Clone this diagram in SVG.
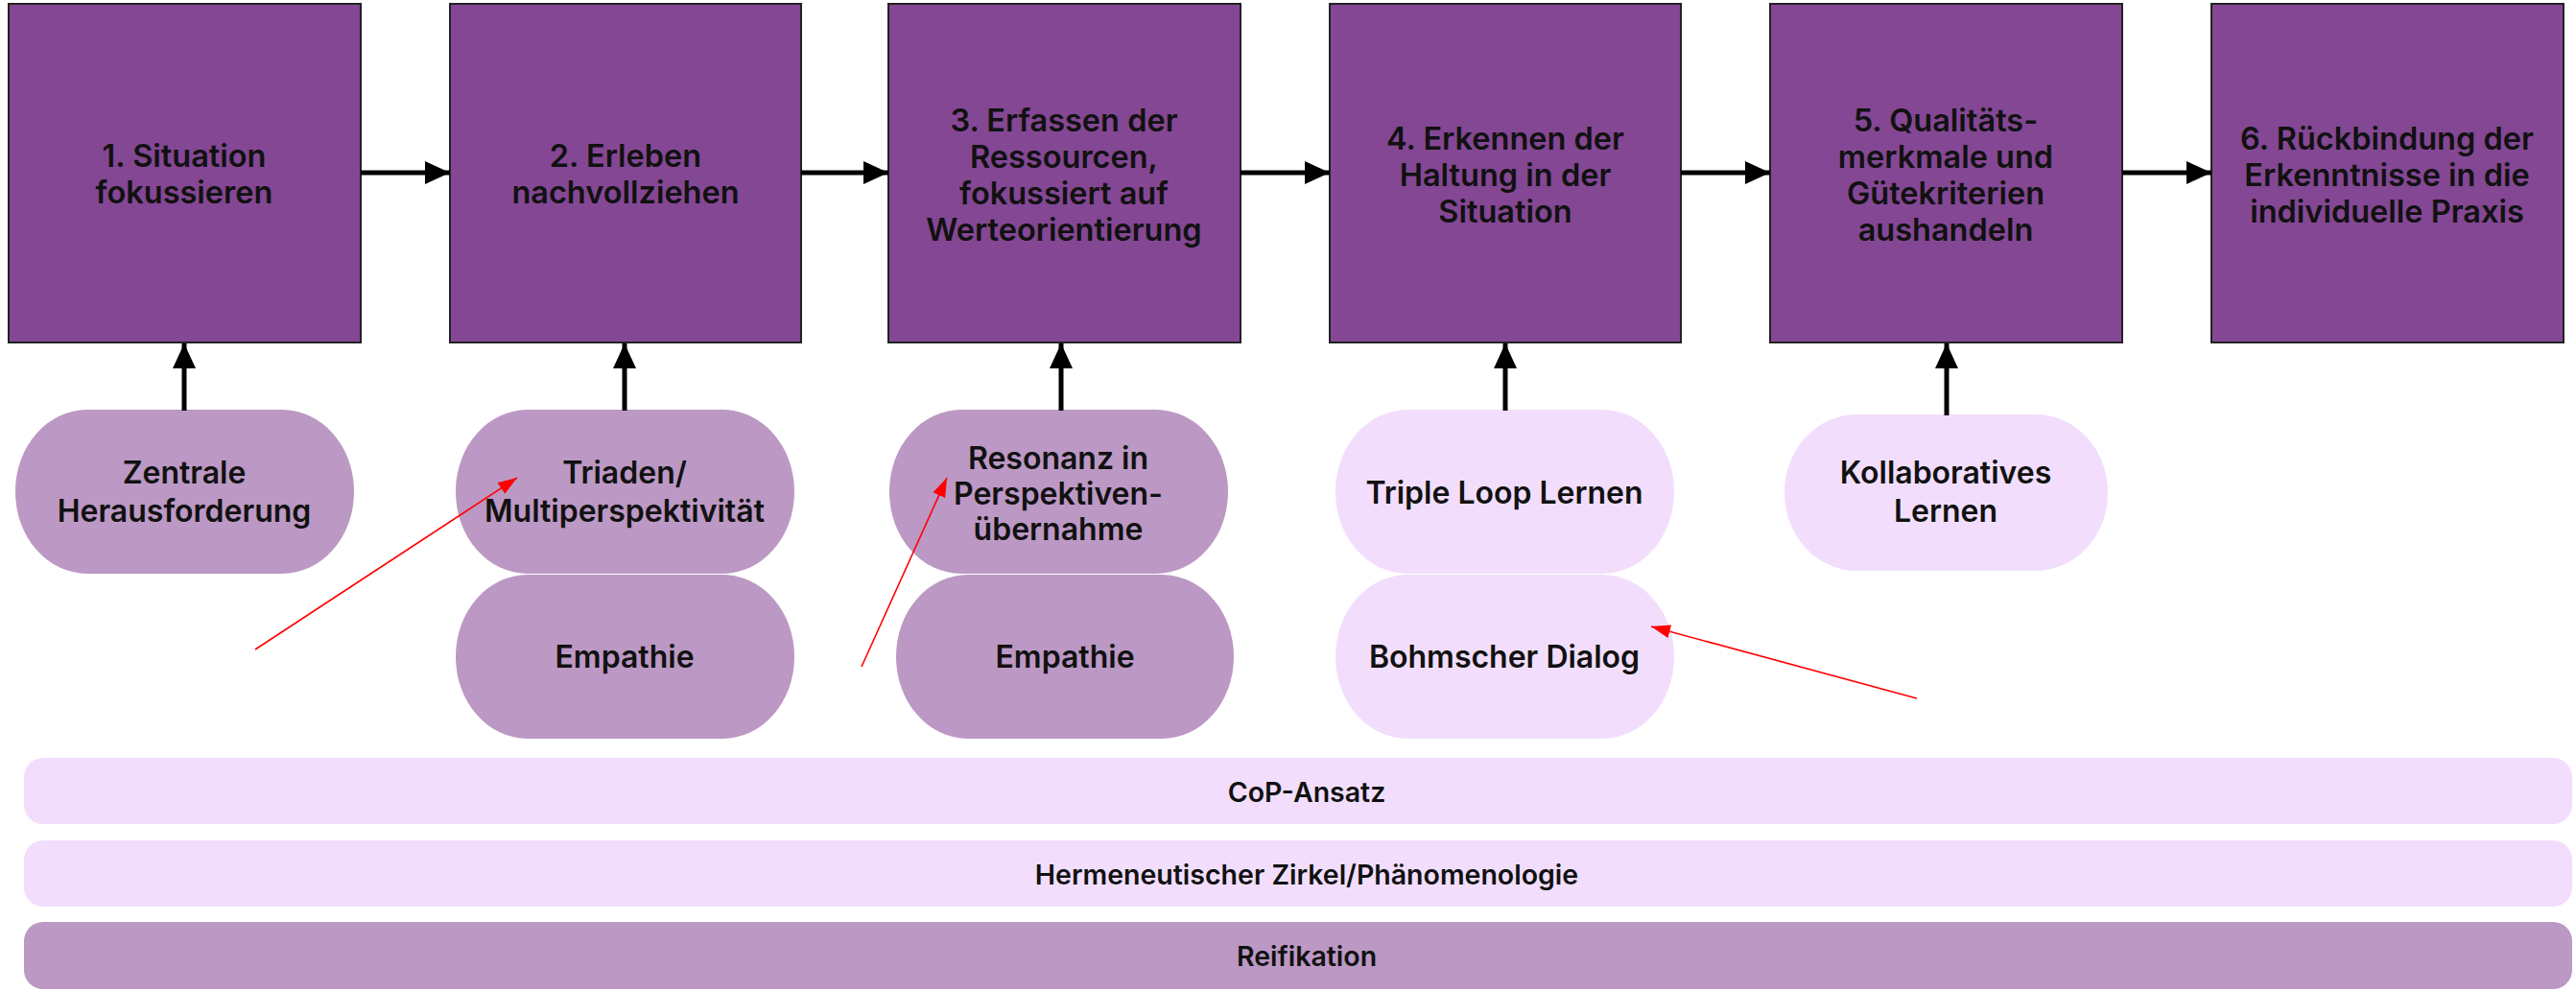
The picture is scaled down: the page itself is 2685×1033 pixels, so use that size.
<svg xmlns="http://www.w3.org/2000/svg" width="2685" height="1033" viewBox="0 0 2685 1033">
<defs>
<style>
.box{fill:#844794;stroke:#222;stroke-width:2}
.pd{fill:#BC98C4}
.pl{fill:#F2DEFC}
.t{font-family:Inter,"Liberation Sans",Arial,sans-serif;font-weight:600;fill:#111;text-anchor:middle;dominant-baseline:central}
.bt{font-size:32.5px}
.pt{font-size:32px}
.rt{font-size:28.5px}
.arr{stroke:#000;stroke-width:5;fill:none;marker-end:url(#ah)}
.red{stroke:#f00;stroke-width:1.6;fill:none;marker-end:url(#rh)}
</style>
<marker id="ah" markerUnits="userSpaceOnUse" markerWidth="26" markerHeight="24" refX="26" refY="12" orient="auto"><path d="M0,0 L26,12 L0,24 z" fill="#000"/></marker>
<marker id="rh" markerUnits="userSpaceOnUse" markerWidth="20" markerHeight="14" refX="20" refY="7" orient="auto"><path d="M0,0 L20,7 L0,14 z" fill="#f00"/></marker>
</defs>
<rect width="2685" height="1033" fill="#fff"/>

<g id="bar-cop"><rect class="pl" x="25" y="790" width="2656" height="69" rx="20"/><text class="t rt" x="1362" y="825">CoP-Ansatz</text></g>
<g id="bar-herm"><rect class="pl" x="25" y="876" width="2656" height="69" rx="20"/><text class="t rt" x="1362" y="911">Hermeneutischer Zirkel/Phänomenologie</text></g>
<g id="bar-reif"><rect class="pd" x="25" y="961" width="2656" height="70" rx="20"/><text class="t rt" x="1362" y="996">Reifikation</text></g>

<g id="step1"><rect class="box" x="9" y="4" width="367" height="353"/><text class="t bt" x="192" y="162">1. Situation</text><text class="t bt" x="192" y="200">fokussieren</text></g>
<g id="step2"><rect class="box" x="469" y="4" width="366" height="353"/><text class="t bt" x="652" y="162">2. Erleben</text><text class="t bt" x="652" y="200">nachvollziehen</text></g>
<g id="step3"><rect class="box" x="926" y="4" width="367" height="353"/><text class="t bt" x="1109" y="125">3. Erfassen der</text><text class="t bt" x="1109" y="163">Ressourcen,</text><text class="t bt" x="1109" y="201">fokussiert auf</text><text class="t bt" x="1109" y="239">Werteorientierung</text></g>
<g id="step4"><rect class="box" x="1386" y="4" width="366" height="353"/><text class="t bt" x="1569" y="144">4. Erkennen der</text><text class="t bt" x="1569" y="182">Haltung in der</text><text class="t bt" x="1569" y="220">Situation</text></g>
<g id="step5"><rect class="box" x="1845" y="4" width="367" height="353"/><text class="t bt" x="2028" y="125">5. Qualitäts-</text><text class="t bt" x="2028" y="163">merkmale und</text><text class="t bt" x="2028" y="201">Gütekriterien</text><text class="t bt" x="2028" y="239">aushandeln</text></g>
<g id="step6"><rect class="box" x="2305" y="4" width="367" height="353"/><text class="t bt" x="2488" y="144">6. Rückbindung der</text><text class="t bt" x="2488" y="182">Erkenntnisse in die</text><text class="t bt" x="2488" y="220">individuelle Praxis</text></g>

<g id="p-zentrale"><rect class="pd" x="16" y="427" width="353" height="171" rx="75" ry="85"/><text class="t pt" x="192" y="492">Zentrale</text><text class="t pt" x="192" y="532">Herausforderung</text></g>
<g id="p-triaden"><rect class="pd" x="475" y="427" width="353" height="171" rx="75" ry="85"/><text class="t pt" x="651" y="492">Triaden/</text><text class="t pt" x="651" y="532">Multiperspektivität</text></g>
<g id="p-empathie1"><rect class="pd" x="475" y="599" width="353" height="171" rx="75" ry="85"/><text class="t pt" x="651" y="684">Empathie</text></g>
<g id="p-resonanz"><rect class="pd" x="927" y="427" width="353" height="171" rx="75" ry="85"/><text class="t pt" x="1103" y="477">Resonanz in</text><text class="t pt" x="1103" y="514">Perspektiven-</text><text class="t pt" x="1103" y="551">übernahme</text></g>
<g id="p-empathie2"><rect class="pd" x="934" y="599" width="352" height="171" rx="75" ry="85"/><text class="t pt" x="1110" y="684">Empathie</text></g>
<g id="p-triple"><rect class="pl" x="1392" y="427" width="353" height="171" rx="75" ry="85"/><text class="t pt" x="1568" y="513">Triple Loop Lernen</text></g>
<g id="p-bohm"><rect class="pl" x="1392" y="599" width="353" height="171" rx="75" ry="85"/><text class="t pt" x="1568" y="684">Bohmscher Dialog</text></g>
<g id="p-kollab"><rect class="pl" x="1860" y="432" width="337" height="163" rx="75" ry="81"/><text class="t pt" x="2028" y="492">Kollaboratives</text><text class="t pt" x="2028" y="532">Lernen</text></g>

<g id="connectors">
<line class="arr" x1="376" y1="180" x2="469" y2="180"/>
<line class="arr" x1="835" y1="180" x2="926" y2="180"/>
<line class="arr" x1="1293" y1="180" x2="1386" y2="180"/>
<line class="arr" x1="1752" y1="180" x2="1845" y2="180"/>
<line class="arr" x1="2212" y1="180" x2="2305" y2="180"/>
<line class="arr" x1="192" y1="428" x2="192" y2="358"/>
<line class="arr" x1="651" y1="428" x2="651" y2="358"/>
<line class="arr" x1="1106" y1="428" x2="1106" y2="358"/>
<line class="arr" x1="1569" y1="428" x2="1569" y2="358"/>
<line class="arr" x1="2029" y1="433" x2="2029" y2="358"/>
<line class="red" x1="266" y1="677" x2="539" y2="498"/>
<line class="red" x1="898" y1="695" x2="987" y2="498"/>
<line class="red" x1="1998" y1="728" x2="1721" y2="653"/>
</g>
</svg>
